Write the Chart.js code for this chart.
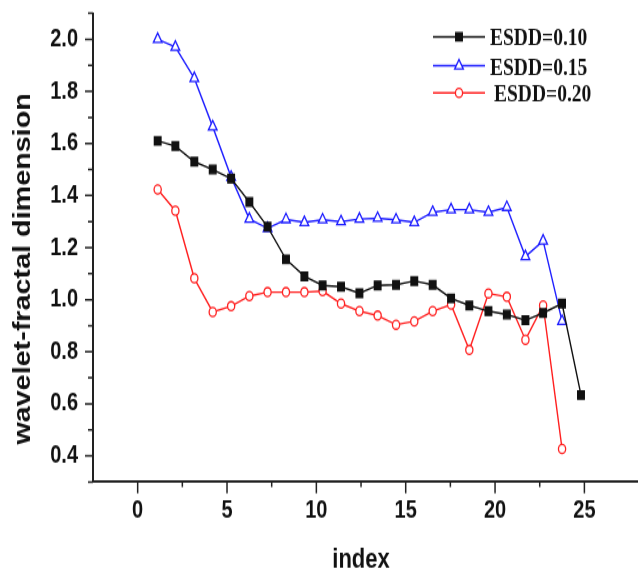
<!DOCTYPE html>
<html>
<head>
    <title>Wavelet-fractal dimension vs index</title>
    <style>
        body {
            margin: 0;
            padding: 0;
            background-color: #fff;
            overflow: hidden;
        }

        /* the reference is stretched vertically, so is the canvas */
        #chart {
            position: absolute;
            left: 0;
            top: 0;
            transform: scaleY(1.2505);
            transform-origin: 0 0;
        }
    </style>
</head>
<body>
    <canvas id="chart" width="638" height="455"></canvas>

    <script src="https://cdn.jsdelivr.net/npm/chart.js"></script>
    <script>
        // index positions of the points
        const indexPos = [1.12, 2.11, 3.17, 4.20, 5.23, 6.25, 7.27, 8.30, 9.33, 10.35, 11.38, 12.41,
                          13.43, 14.46, 15.48, 16.51, 17.54, 18.56, 19.63, 20.66, 21.70, 22.69, 23.75, 24.81];

        const seriesNames = ['ESDD=0.10', 'ESDD=0.15', 'ESDD=0.20'];

        const esdd010 = [1.61, 1.59, 1.53, 1.50, 1.465, 1.375, 1.28, 1.155, 1.09, 1.055, 1.05, 1.025,
                         1.055, 1.057, 1.072, 1.057, 1.005, 0.978, 0.956, 0.943, 0.921, 0.949, 0.985, 0.634];
        const esdd015 = [2.00, 1.97, 1.85, 1.664, 1.471, 1.31, 1.274, 1.308, 1.297, 1.307, 1.300, 1.310,
                         1.313, 1.307, 1.297, 1.336, 1.346, 1.346, 1.336, 1.355, 1.166, 1.226, 0.917];
        const esdd020 = [1.423, 1.342, 1.082, 0.953, 0.975, 1.014, 1.029, 1.029, 1.029, 1.033, 0.985, 0.956,
                         0.939, 0.904, 0.917, 0.956, 0.981, 0.807, 1.024, 1.011, 0.846, 0.978, 0.427];

        const xMajor = [0, 5, 10, 15, 20, 25];
        const xMinor = [2.5, 7.5, 12.5, 17.5, 22.5];
        const yMajor = [0.4, 0.6, 0.8, 1.0, 1.2, 1.4, 1.6, 1.8, 2.0];
        const yMinor = [0.3, 0.5, 0.7, 0.9, 1.1, 1.3, 1.5, 1.7, 1.9, 2.1];

        const toPoints = vals => vals.map((v, i) => ({ x: indexPos[i], y: v }));

        const styles = [
            { color: '#111111', fill: '#111111', pointStyle: 'rect', radius: 4.7 },
            { color: '#1f1fff', fill: '#ffffff', pointStyle: 'triangle', radius: 5 },
            { color: '#ff2020', fill: '#ffffff', pointStyle: 'circle', radius: 3.6 }
        ];

        const allValues = [esdd010, esdd015, esdd020];

        const datasets = allValues.map((vals, i) => ({
            label: seriesNames[i],
            data: toPoints(vals),
            borderColor: styles[i].color,
            borderWidth: 1.4,
            pointStyle: styles[i].pointStyle,
            pointRadius: styles[i].radius,
            pointBorderColor: styles[i].color,
            pointBackgroundColor: styles[i].fill,
            pointBorderWidth: 1.3,
            tension: 0,
            fill: false
        }));

        // ticks, axis titles and legend
        const decorPlugin = {
            id: 'decor',
            afterDraw(chart) {
                const ctx = chart.ctx;
                const xs = chart.scales.x;
                const ys = chart.scales.y;
                const area = chart.chartArea;

                ctx.save();
                ctx.strokeStyle = '#222';
                ctx.lineWidth = 1.5;
                ctx.beginPath();
                xMajor.forEach(v => {
                    const px = xs.getPixelForValue(v);
                    ctx.moveTo(px, area.bottom);
                    ctx.lineTo(px, area.bottom + 9);
                });
                xMinor.forEach(v => {
                    const px = xs.getPixelForValue(v);
                    ctx.moveTo(px, area.bottom);
                    ctx.lineTo(px, area.bottom + 4);
                });
                yMajor.forEach(v => {
                    const py = ys.getPixelForValue(v);
                    ctx.moveTo(area.left, py);
                    ctx.lineTo(area.left - 8, py);
                });
                yMinor.forEach(v => {
                    const py = ys.getPixelForValue(v);
                    ctx.moveTo(area.left, py);
                    ctx.lineTo(area.left - 5, py);
                });
                ctx.stroke();

                // axis titles
                ctx.fillStyle = '#111';
                ctx.font = 'bold 23px "Liberation Sans", Arial, sans-serif';
                ctx.textAlign = 'center';
                ctx.textBaseline = 'middle';
                ctx.save();
                ctx.translate(24, 215);
                ctx.rotate(-Math.PI / 2);
                ctx.fillText('wavelet-fractal dimension', 0, 0);
                ctx.restore();

                ctx.font = 'bold 22px "Liberation Sans", Arial, sans-serif';
                ctx.textBaseline = 'alphabetic';
                ctx.fillText('index', 361, 453.5);

                // legend
                const rows = [29.4, 52.6, 74.2];
                ctx.font = 'bold 19.5px "Liberation Serif", "Times New Roman", serif';
                ctx.textAlign = 'left';
                ctx.textBaseline = 'middle';
                chart.data.datasets.forEach((ds, i) => {
                    const y = rows[i];
                    const st = styles[i];
                    ctx.strokeStyle = st.color;
                    ctx.lineWidth = 1.5;
                    ctx.beginPath();
                    ctx.moveTo(433, y);
                    ctx.lineTo(485, y);
                    ctx.stroke();
                    ctx.fillStyle = st.fill;
                    ctx.strokeStyle = st.color;
                    ctx.lineWidth = 1.3;
                    Chart.helpers.drawPoint(ctx, {
                        pointStyle: st.pointStyle,
                        radius: st.radius,
                        rotation: 0,
                        borderWidth: 1.3
                    }, 459, y);
                    ctx.fillStyle = '#111';
                    ctx.fillText(ds.label, i === 2 ? 494 : 490, y + 2);
                });
                ctx.restore();
            }
        };

        const tickFont = { family: '"Liberation Sans", Arial, sans-serif', size: 20, weight: 'bold' };

        const ctx = document.getElementById('chart').getContext('2d');
        const chart = new Chart(ctx, {
            type: 'line',
            data: { datasets: datasets },
            options: {
                responsive: false,
                animation: false,
                layout: {
                    autoPadding: false,
                    padding: { top: 10.6, left: 0, right: 0, bottom: 0 }
                },
                plugins: {
                    legend: { display: false },
                    tooltip: { enabled: false }
                },
                scales: {
                    x: {
                        type: 'linear',
                        min: -2.5,
                        max: 28,
                        grid: { display: false, drawTicks: false },
                        border: { display: true, color: '#222', width: 2 },
                        afterBuildTicks: scale => { scale.ticks = xMajor.map(v => ({ value: v })); },
                        afterFit: scale => {
                            scale.height = 69.6;
                            scale.paddingLeft = 0;
                            scale.paddingRight = 0;
                        },
                        ticks: {
                            padding: 11,
                            color: '#111',
                            font: tickFont,
                            maxRotation: 0,
                            callback: v => String(v)
                        }
                    },
                    y: {
                        type: 'linear',
                        min: 0.3,
                        max: 2.1,
                        grid: { display: false, drawTicks: false },
                        border: { display: true, color: '#222', width: 2 },
                        afterBuildTicks: scale => { scale.ticks = yMajor.map(v => ({ value: v })); },
                        afterFit: scale => {
                            scale.width = 93;
                            scale.paddingTop = 0;
                            scale.paddingBottom = 0;
                        },
                        ticks: {
                            padding: 15,
                            color: '#111',
                            font: tickFont,
                            callback: v => v.toFixed(1)
                        }
                    }
                }
            },
            plugins: [decorPlugin]
        });
    </script>
</body>
</html>
